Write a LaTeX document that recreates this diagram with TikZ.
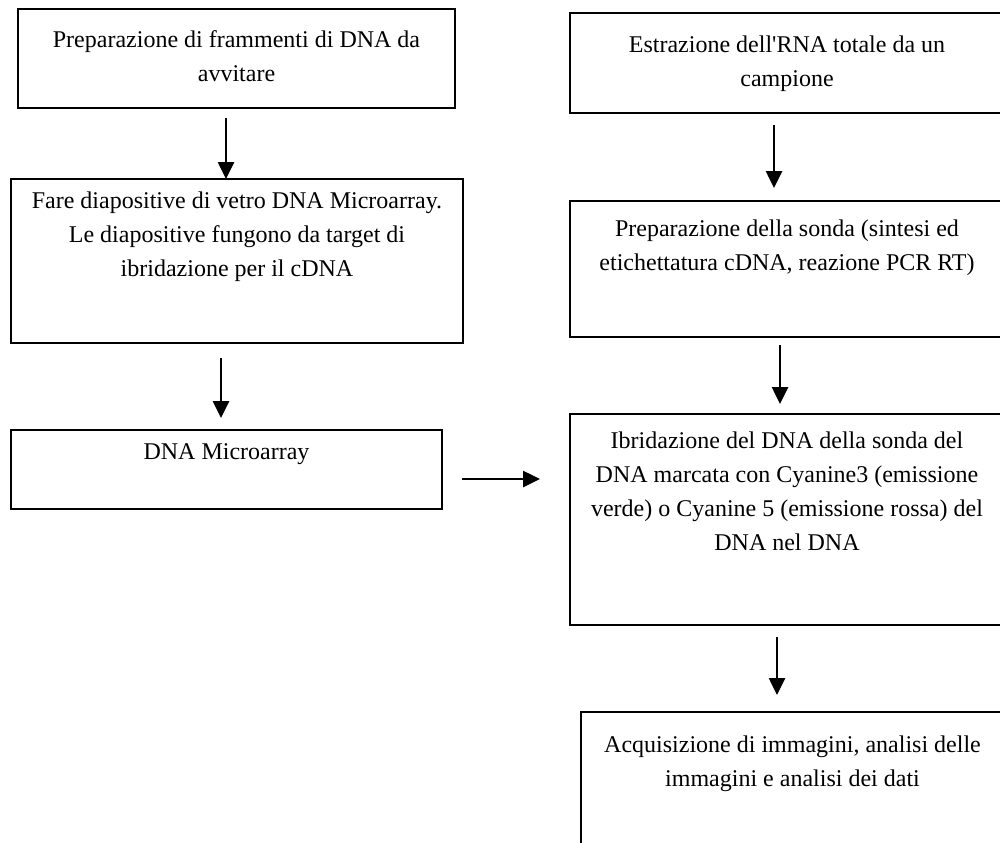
\documentclass[tikz,border=0pt]{standalone}
\usepackage{fontspec}
\setmainfont{Liberation Serif}
\usepackage{tikz}
\usetikzlibrary{calc,positioning,arrows.meta}
\tikzset{
    >={Triangle[width=8pt,length=8.5pt]},
    stepbox/.style={
        rectangle,
        draw=black, line width=0.6pt,
        inner sep=0pt, outer sep=0pt,
        anchor=north west
    },
    steptext/.style={
        anchor=north,
        inner sep=0pt,
        align=center,
        font=\fontsize{12}{17}\selectfont
    },
    flow/.style={draw, line width=1.3pt, ->}
}

\begin{document}
\begin{tikzpicture}[x=0.5pt, y=-0.5pt]
    \useasboundingbox (0,0) rectangle (1000,842);
    \clip (0,0) rectangle (1000,842);

    % left column
    \node[stepbox, minimum width=218.5pt, minimum height=49.5pt] (prep) at (18,9) {};
    \node[steptext] (prep text) at ($(prep.north)+(0,21)$)
        {Preparazione di frammenti di DNA da\\avvitare};

    \node[stepbox, minimum width=226pt, minimum height=82pt] (slides) at (11,179) {};
    \node[steptext] (slides text) at ($(slides.north)+(0,12)$)
        {Fare diapositive di vetro DNA Microarray.\\Le diapositive fungono da target di\\ibridazione per il cDNA};

    \node[stepbox, minimum width=215.5pt, minimum height=39.5pt] (array) at (11,430) {};
    \node[steptext] (array text) at ($(array.north)+(0,13)$) {DNA Microarray};

    % right column
    \node[stepbox, minimum width=217pt, minimum height=50pt] (rna) at (570,13) {};
    \node[steptext] (rna text) at ($(rna.north)+(0,22)$)
        {Estrazione dell\textquotesingle RNA totale da un\\campione};

    \node[stepbox, minimum width=217pt, minimum height=68pt] (probe) at (570,201) {};
    \node[steptext] (probe text) at ($(probe.north)+(0,18)$)
        {Preparazione della sonda (sintesi ed\\etichettatura cDNA, reazione PCR RT)};

    \node[stepbox, minimum width=217pt, minimum height=105.5pt] (hyb) at (570,414) {};
    \node[steptext] (hyb text) at ($(hyb.north)+(0,17)$)
        {Ibridazione del DNA della sonda del\\DNA marcata con Cyanine3 (emissione\\verde) o Cyanine 5 (emissione rossa) del\\DNA nel DNA};

    \node[stepbox, minimum width=211.5pt, minimum height=75pt] (imaging) at (581,712) {};
    \node[steptext] (imaging text) at ($(imaging.north)+(0,23)$)
        {Acquisizione di immagini, analisi delle\\immagini e analisi dei dati};

    % arrows
    \draw[flow] ([xshift=-5.25pt,yshift=-5pt]prep.south) -- ([xshift=-5.5pt]slides.north);
    \draw[flow, shorten >=6pt] ([xshift=-8pt,yshift=-7.5pt]slides.south) -- ([xshift=-2.75pt]array.north);
    \draw[flow, shorten >=15pt] ([xshift=10pt,yshift=-4.75pt]array.east) -- ([yshift=-4.75pt]array.east -| hyb.west);

    \draw[flow, shorten >=6.5pt] ([xshift=-6.5pt,yshift=-6pt]rna.south) -- ([xshift=-6.5pt]probe.north);
    \draw[flow, shorten >=5pt] ([xshift=-3.5pt,yshift=-4pt]probe.south) -- ([xshift=-3.5pt]hyb.north);
    \draw[flow, shorten >=8.5pt] ([xshift=-5pt,yshift=-6pt]hyb.south) -- ([xshift=-5pt]hyb.south |- imaging.north);
\end{tikzpicture}
\end{document}
